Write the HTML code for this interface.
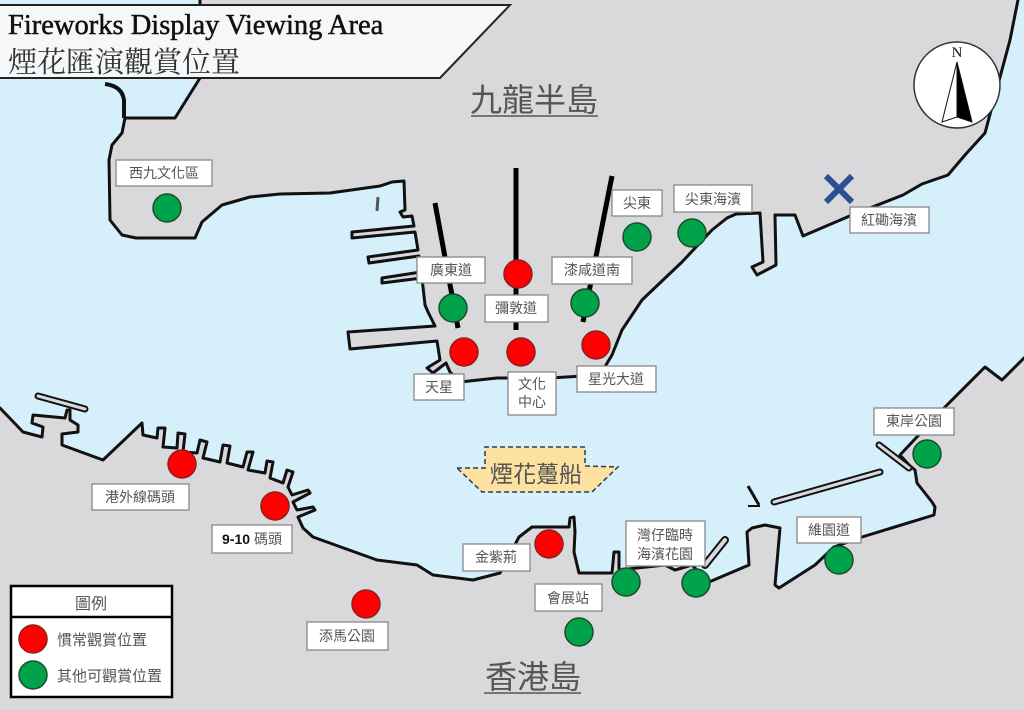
<!DOCTYPE html>
<html><head><meta charset="utf-8"><style>
html,body{margin:0;padding:0;background:#d6f0fb;}
svg{display:block}
.lb{fill:#fff;stroke:#888;stroke-width:1.3}
.t{font-family:"Liberation Sans","Noto Sans CJK TC",sans-serif;font-size:14px;fill:#555;text-anchor:middle}
.r{fill:#ff0000;stroke:#8a2020;stroke-width:1.5}
.g{fill:#00a24a;stroke:#1a4d2a;stroke-width:1.5}
</style></head><body>
<svg width="1024" height="710" viewBox="0 0 1024 710" xmlns="http://www.w3.org/2000/svg">
<rect width="1024" height="710" fill="#d6f0fb"/>
<!-- Kowloon -->
<path fill="#d9d9db" stroke="#111" stroke-width="3" stroke-linejoin="round" d="M200,78 L175,118 L125,118 L122,133 L112,145 L109,160 L110,220 L122,235 L136,238 L195,238 L202,222 L222,205 L250,197 L280,194 L330,193 L380,186 L392,182 L404,181 L405,210 L400,212 L403,217 L412,216 L414,226 L352,232 L352,238 L415,232 L418,250 L368,257 L369,263 L419,256 L421,272 L382,278 L382,283 L422,278 L425,305 L428,312 L435,326 L348,332 L350,349 L437,341 L440,360 L427,368 L433,373 L446,363 L450,372 L460,382 L497,378 L550,378 L600,375 L612,355 L622,330 L642,300 L682,262 L712,230 L722,222 L727,218 L736,214 L760,213 L763,262 L752,267 L757,275 L776,265 L775,215 L795,215 L803,236 L852,215 L903,195 L922,184 L948,175 L965,155 L985,133 L1010,40 L1020,-10 L200,-10 Z"/>
<path d="M105,84 Q122,86 124,100 L124,118" fill="none" stroke="#111" stroke-width="4"/>
<line x1="378" y1="197" x2="377" y2="211" stroke="#555" stroke-width="3"/>
<!-- HK island -->
<path fill="#d9d9db" stroke="#111" stroke-width="3" stroke-linejoin="round" d="M-10,400 L0,408 L23,432 L42,437 L43,427 L32,423 L33,415 L65,418 L67,410 L70,410 L70,420 L78,425 L78,432 L62,434 L62,445 L103,460 L142,423 L143,435 L157,438 L158,428 L165,428 L163,447 L177,448 L178,433 L185,434 L183,452 L197,453 L200,440 L207,442 L203,458 L220,462 L223,445 L230,446 L227,463 L243,467 L247,452 L253,452 L248,470 L265,473 L267,461 L273,462 L270,478 L283,483 L287,470 L293,472 L288,487 L292,495 L308,490 L310,493 L293,502 L297,510 L313,507 L315,510 L298,517 L303,528 L313,537 L377,560 L417,565 L433,575 L473,580 L500,573 L519,537 L532,527 L569,527 L570,518 L574,517 L575,532 L574,552 L579,573 L612,573 L614,552 L619,552 L619,570 L665,565 L675,570 L692,565 L709,582 L749,565 L747,532 L752,528 L765,525 L780,528 L775,585 L779,588 L815,565 L834,547 L862,537 L934,515 L935,507 L932,502 L917,483 L915,470 L909,465 L900,455 L945,407 L985,367 L1002,380 L1024,358 L1040,345 L1040,720 L-10,720 Z"/>
<line x1="38" y1="396" x2="85" y2="409" stroke="#111" stroke-width="7" stroke-linecap="round"/>
<line x1="38" y1="396" x2="85" y2="409" stroke="#d9d9db" stroke-width="3" stroke-linecap="round"/>
<line x1="774" y1="502" x2="880" y2="472" stroke="#111" stroke-width="7" stroke-linecap="round"/>
<line x1="774" y1="502" x2="880" y2="472" stroke="#d9d9db" stroke-width="3" stroke-linecap="round"/>
<line x1="879" y1="445" x2="909" y2="468" stroke="#111" stroke-width="7" stroke-linecap="round"/>
<line x1="879" y1="445" x2="909" y2="468" stroke="#d9d9db" stroke-width="3" stroke-linecap="round"/>
<line x1="705" y1="565" x2="725" y2="540" stroke="#111" stroke-width="8" stroke-linecap="round"/>
<line x1="705" y1="565" x2="725" y2="540" stroke="#d9d9db" stroke-width="4" stroke-linecap="round"/>
<line x1="760" y1="506" x2="748" y2="506" stroke="#111" stroke-width="2"/>
<line x1="759" y1="505" x2="748" y2="486" stroke="#111" stroke-width="3"/>
<!-- sticks -->
<line x1="435" y1="203" x2="458" y2="328" stroke="#000" stroke-width="5"/>
<line x1="516" y1="168" x2="516" y2="330" stroke="#000" stroke-width="5"/>
<line x1="612" y1="176" x2="583" y2="322" stroke="#000" stroke-width="5"/>
<!-- title -->
<path d="M-5,5 L510,5 L440,78 L-5,78 Z" fill="#f5f7f8" stroke="#222" stroke-width="2"/>
<text x="8" y="34" font-family="Liberation Serif,serif" font-size="28.5" fill="#111" stroke="#111" stroke-width="0.5">Fireworks Display Viewing Area</text>
<text x="8" y="72" font-family="Liberation Serif,'Noto Serif CJK SC',serif" font-size="29" fill="#333">煙花匯演觀賞位置</text>
<text x="534" y="111" class="t" style="font-size:32px">九龍半島</text>
<line x1="471" y1="116" x2="598" y2="116" stroke="#555" stroke-width="1.5"/>
<text x="533" y="688" class="t" style="font-size:32px">香港島</text>
<line x1="484" y1="693" x2="581" y2="693" stroke="#555" stroke-width="1.5"/>
<!-- compass -->
<circle cx="957" cy="85" r="43" fill="#fff" stroke="#333" stroke-width="1.5"/>
<text x="957" y="57" font-family="Liberation Serif,serif" font-size="15" text-anchor="middle" fill="#111">N</text>
<path d="M957,62 L942,122 L957,117 Z" fill="#fff" stroke="#111"/>
<path d="M957,62 L972,122 L957,117 Z" fill="#000" stroke="#111"/>
<!-- X -->
<path d="M826,176 L852,202 M852,176 L826,202" stroke="#2e4e94" stroke-width="6"/>
<!-- ship -->
<path d="M457,468 L485,468 L485,447 L585,447 L585,466 L618,467 L592,492 L482,492 Z" fill="#fde1a0" stroke="#2b3a55" stroke-width="1.5" stroke-dasharray="5,3"/>
<text x="536" y="482" class="t" style="font-size:23px;fill:#555">煙花躉船</text>
<!-- circles -->
<g>
<circle class="g" cx="167" cy="208" r="14"/>
<circle class="g" cx="453" cy="308" r="14"/>
<circle class="r" cx="518" cy="274" r="14"/>
<circle class="g" cx="585" cy="303" r="14"/>
<circle class="g" cx="637" cy="237" r="14"/>
<circle class="g" cx="692" cy="233" r="14"/>
<circle class="r" cx="464" cy="352" r="14"/>
<circle class="r" cx="521" cy="352" r="14"/>
<circle class="r" cx="596" cy="345" r="14"/>
<circle class="r" cx="182" cy="464" r="14"/>
<circle class="r" cx="275" cy="506" r="14"/>
<circle class="r" cx="366" cy="604" r="14"/>
<circle class="r" cx="549" cy="544" r="14"/>
<circle class="g" cx="579" cy="632" r="14"/>
<circle class="g" cx="626" cy="582" r="14"/>
<circle class="g" cx="696" cy="583" r="14"/>
<circle class="g" cx="839" cy="560" r="14"/>
<circle class="g" cx="927" cy="454" r="14"/>
</g>
<!-- labels -->
<rect class="lb" x="116" y="160" width="96" height="26"/><text class="t" x="164" y="178">西九文化區</text>
<rect class="lb" x="417" y="257" width="68" height="26"/><text class="t" x="451" y="275">廣東道</text>
<rect class="lb" x="485" y="295" width="63" height="27"/><text class="t" x="516" y="313">彌敦道</text>
<rect class="lb" x="552" y="257" width="80" height="27"/><text class="t" x="592" y="275">漆咸道南</text>
<rect class="lb" x="612" y="190" width="50" height="26"/><text class="t" x="637" y="208">尖東</text>
<rect class="lb" x="674" y="185" width="78" height="27"/><text class="t" x="713" y="204">尖東海濱</text>
<rect class="lb" x="850" y="207" width="79" height="26"/><text class="t" x="889" y="225">紅磡海濱</text>
<rect class="lb" x="414" y="374" width="50" height="26"/><text class="t" x="439" y="392">天星</text>
<rect class="lb" x="508" y="372" width="48" height="43"/><text class="t" x="532" y="389">文化</text><text class="t" x="532" y="407">中心</text>
<rect class="lb" x="577" y="366" width="79" height="26"/><text class="t" x="616" y="384">星光大道</text>
<rect class="lb" x="92" y="484" width="97" height="26"/><text class="t" x="140" y="502">港外線碼頭</text>
<rect class="lb" x="212" y="525" width="80" height="28"/><text class="t" x="252" y="544"><tspan font-weight="bold" fill="#111">9-10</tspan> 碼頭</text>
<rect class="lb" x="307" y="622" width="81" height="28"/><text class="t" x="347" y="641">添馬公園</text>
<rect class="lb" x="463" y="544" width="67" height="27"/><text class="t" x="496" y="562">金紫荊</text>
<rect class="lb" x="535" y="584" width="67" height="27"/><text class="t" x="568" y="603">會展站</text>
<rect class="lb" x="626" y="521" width="79" height="45"/><text class="t" x="665" y="540">灣仔臨時</text><text class="t" x="665" y="559">海濱花園</text>
<rect class="lb" x="797" y="517" width="64" height="26"/><text class="t" x="829" y="535">維園道</text>
<rect class="lb" x="874" y="408" width="80" height="27"/><text class="t" x="914" y="426">東岸公園</text>
<!-- legend -->
<rect x="11" y="586" width="161" height="111" fill="#fff" stroke="#000" stroke-width="2.5"/>
<line x1="11" y1="617" x2="172" y2="617" stroke="#000" stroke-width="2.5"/>
<text class="t" x="91" y="609" style="font-size:16px">圖例</text>
<circle class="r" cx="33" cy="639" r="14"/>
<circle class="g" cx="33" cy="675" r="14"/>
<text class="t" x="57" y="645" style="text-anchor:start;font-size:15px">慣常觀賞位置</text>
<text class="t" x="57" y="681" style="text-anchor:start;font-size:15px">其他可觀賞位置</text>
</svg>
</body></html>
